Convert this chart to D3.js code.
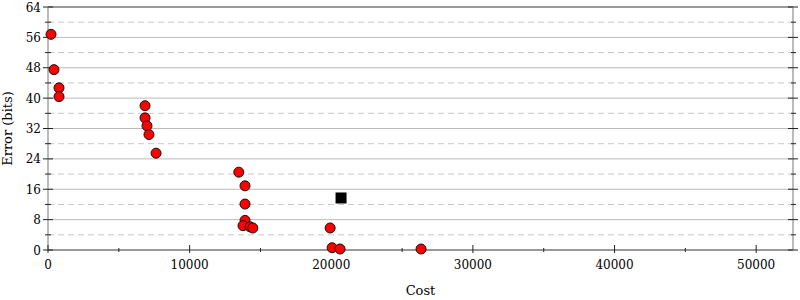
<!DOCTYPE html>
<html>
<head>
<meta charset="utf-8">
<script src="https://cdn.jsdelivr.net/npm/d3@7"></script>
<style>
  body { margin: 0; background: #fff; }
  svg text { font-family: "DejaVu Serif", serif; }
</style>
</head>
<body>
<script>
const width = 800;
const height = 300;
const margin = { top: 7, right: 7, bottom: 50, left: 48 };
const innerW = width - margin.left - margin.right;
const innerH = height - margin.top - margin.bottom;

// red dots: candidate programs (cost, error)
const costs = [212, 424, 777, 777, 6850, 6850, 6990, 7130, 7630, 13470, 13910, 13910, 13910, 13770, 14270, 14460, 19920, 20060, 20620, 26340];
const errors = [56.8, 47.5, 42.7, 40.4, 38.0, 34.8, 32.7, 30.4, 25.5, 20.5, 16.9, 12.1, 7.8, 6.4, 6.1, 5.8, 5.8, 0.6, 0.26, 0.26];
// black square: the original
const startCost = [20690];
const startError = [13.7];

const xTicks = [0, 10000, 20000, 30000, 40000, 50000];
const xMinor = [5000, 15000, 25000, 35000, 45000];
const yTicks = [0, 8, 16, 24, 32, 40, 48, 56, 64];
const yMinor = [4, 12, 20, 28, 36, 44, 52, 60];

const points = costs.map((c, i) => ({ cost: c, error: errors[i] }));
const start = startCost.map((c, i) => ({ cost: c, error: startError[i] }));

const svg = d3.select("body").append("svg")
    .attr("width", width)
    .attr("height", height);

const g = svg.append("g")
    .attr("transform", `translate(${margin.left},${margin.top})`);

const x = d3.scaleLinear().domain([0, 52600]).range([0, innerW]);
const y = d3.scaleLinear().domain([0, 64]).range([innerH, 0]);

// gridlines
g.selectAll(".grid-major")
    .data(yTicks.filter(d => d > 0 && d < 64))
    .enter().append("line")
    .attr("x1", 0).attr("x2", innerW)
    .attr("y1", d => y(d)).attr("y2", d => y(d))
    .attr("stroke", "#bbb").attr("stroke-width", 1);

g.selectAll(".grid-minor")
    .data(yMinor)
    .enter().append("line")
    .attr("x1", 0).attr("x2", innerW)
    .attr("y1", d => y(d)).attr("y2", d => y(d))
    .attr("stroke", "#c8c8c8").attr("stroke-width", 1)
    .attr("stroke-dasharray", "6,4");

// frame
g.append("line").attr("x1", 0).attr("x2", innerW).attr("y1", 0).attr("y2", 0)
    .attr("stroke", "#999").attr("stroke-width", 2);
g.append("line").attr("x1", innerW).attr("x2", innerW).attr("y1", 0).attr("y2", innerH)
    .attr("stroke", "#bbb").attr("stroke-width", 2);
g.append("line").attr("x1", 0).attr("x2", 0).attr("y1", 0).attr("y2", innerH)
    .attr("stroke", "#bbb").attr("stroke-width", 2);
g.append("line").attr("x1", 0).attr("x2", innerW).attr("y1", innerH).attr("y2", innerH)
    .attr("stroke", "#999").attr("stroke-width", 2);

// ticks
const tickColor = "#222";
g.selectAll(".xt").data(xTicks).enter().append("line")
    .attr("x1", d => x(d)).attr("x2", d => x(d))
    .attr("y1", innerH - 5).attr("y2", innerH + 3)
    .attr("stroke", tickColor);
g.selectAll(".xm").data(xMinor).enter().append("line")
    .attr("x1", d => x(d)).attr("x2", d => x(d))
    .attr("y1", innerH - 2).attr("y2", innerH + 2)
    .attr("stroke", tickColor);
g.selectAll(".yt").data(yTicks).enter().append("line")
    .attr("x1", -5).attr("x2", 5)
    .attr("y1", d => y(d)).attr("y2", d => y(d))
    .attr("stroke", tickColor);
g.selectAll(".ym").data(yMinor).enter().append("line")
    .attr("x1", -3).attr("x2", 3)
    .attr("y1", d => y(d)).attr("y2", d => y(d))
    .attr("stroke", tickColor);
g.selectAll(".yt2").data(yTicks).enter().append("line")
    .attr("x1", innerW - 5).attr("x2", innerW + 5)
    .attr("y1", d => y(d)).attr("y2", d => y(d))
    .attr("stroke", tickColor);
g.selectAll(".ym2").data(yMinor).enter().append("line")
    .attr("x1", innerW - 2).attr("x2", innerW + 3)
    .attr("y1", d => y(d)).attr("y2", d => y(d))
    .attr("stroke", tickColor);

// tick labels
g.selectAll(".xl").data(xTicks).enter().append("text")
    .attr("x", d => x(d)).attr("y", innerH + 19)
    .attr("text-anchor", "middle")
    .style("font-size", "12px")
    .text(d => d);
g.selectAll(".yl").data(yTicks).enter().append("text")
    .attr("x", -7).attr("y", d => y(d) + 4.5)
    .attr("text-anchor", "end")
    .style("font-size", "12px")
    .text(d => d);

// axis titles
g.append("text")
    .attr("x", innerW / 2).attr("y", innerH + 45)
    .attr("text-anchor", "middle")
    .style("font-size", "13px")
    .text("Cost");
g.append("text")
    .attr("transform", `translate(${-36},${innerH / 2}) rotate(-90)`)
    .attr("text-anchor", "middle")
    .style("font-size", "13px")
    .text("Error (bits)");

// points
g.selectAll(".dot")
    .data(points)
    .enter().append("circle")
    .attr("class", "dot")
    .attr("r", 5)
    .attr("cx", d => x(d.cost))
    .attr("cy", d => y(d.error))
    .attr("fill", "red")
    .attr("stroke", "#111")
    .attr("stroke-width", 1);

g.selectAll(".start")
    .data(start)
    .enter().append("rect")
    .attr("class", "start")
    .attr("x", d => x(d.cost) - 5.5)
    .attr("y", d => y(d.error) - 5.5)
    .attr("width", 11).attr("height", 11)
    .attr("fill", "#000");
</script>
</body>
</html>
